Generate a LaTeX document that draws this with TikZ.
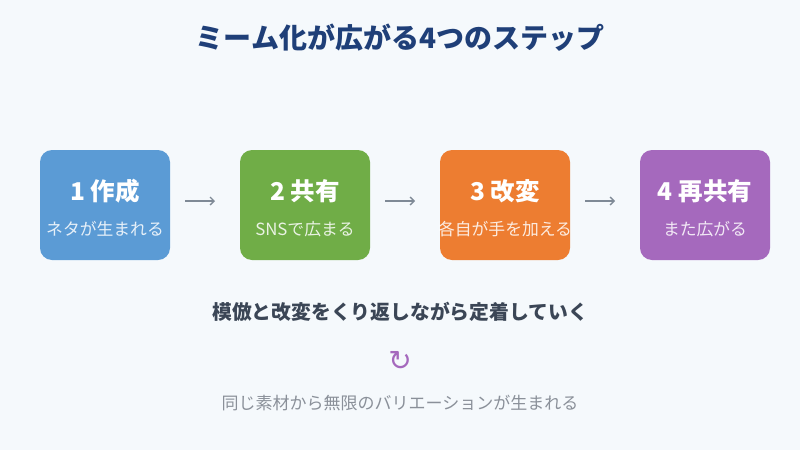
\documentclass[tikz,border=0pt]{standalone}
\usepackage{fontspec}
\setmainfont{Noto Sans CJK JP}
\newfontfamily\symfont{DejaVu Sans}
\usetikzlibrary{arrows.meta}
\definecolor{bg}{HTML}{F5F9FC}
\definecolor{titlec}{HTML}{1F3F78}
\definecolor{cblue}{HTML}{5B9BD5}
\definecolor{cgreen}{HTML}{70AD47}
\definecolor{corange}{HTML}{ED7D31}
\definecolor{cpurple}{HTML}{A569BD}
\definecolor{arrowc}{HTML}{7F8A96}
\definecolor{darkt}{HTML}{3B4656}
\definecolor{grayt}{HTML}{8A9099}
\tikzset{
  stepbox/.style={rounded corners=12pt, minimum width=130pt, minimum height=110pt, inner sep=0pt},
  steptitle/.style={text=white, font=\fontsize{24.5}{28}\selectfont\bfseries, anchor=center},
  stepsub/.style={text=white, text opacity=0.85, font=\fontsize{16.8}{19}\selectfont, anchor=center},
  flow/.style={draw=arrowc, line width=1.3pt, -{Straight Barb[length=4pt,width=8pt]}, shorten <=15pt, shorten >=25pt}
}
\begin{document}
\begin{tikzpicture}[x=1pt,y=-1pt]
\useasboundingbox[fill=bg] (0,0) rectangle (800,450);
\node[text=titlec, font=\fontsize{28}{32}\selectfont\bfseries] (title) at (400,38) {ミーム化が広がる4つのステップ};
\node[stepbox, fill=cblue] (s1) at (105,205) {};
\node[stepbox, fill=cgreen] (s2) at (305,205) {};
\node[stepbox, fill=corange] (s3) at (505,205) {};
\node[stepbox, fill=cpurple] (s4) at (705,205) {};
\node[steptitle] (t1) at (105,191) {1 作成};
\node[steptitle] (t2) at (305,191) {2 共有};
\node[steptitle] (t3) at (505,191) {3 改変};
\node[steptitle] (t4) at (705,191) {4 再共有};
\node[stepsub] (u1) at (105,229) {ネタが生まれる};
\node[stepsub] (u2) at (305,229) {SNSで広まる};
\node[stepsub] (u3) at (505,229) {各自が手を加える};
\node[stepsub] (u4) at (705,229) {また広がる};
\coordinate (a1) at (170,201); \coordinate (b1) at (240,201);
\coordinate (a2) at (370,201); \coordinate (b2) at (440,201);
\coordinate (a3) at (570,201); \coordinate (b3) at (640,201);
\draw[flow] (a1) -- (b1);
\draw[flow] (a2) -- (b2);
\draw[flow] (a3) -- (b3);
\node[text=darkt, font=\fontsize{19.8}{23}\selectfont\bfseries] (cap) at (400,312) {模倣と改変をくり返しながら定着していく};
\node[text=cpurple, font=\symfont\fontsize{28}{30}\selectfont] (cyc) at (400,361) {↻};
\node[text=grayt, font=\fontsize{17}{20}\selectfont] (note) at (400,403) {同じ素材から無限のバリエーションが生まれる};
\end{tikzpicture}
\end{document}
